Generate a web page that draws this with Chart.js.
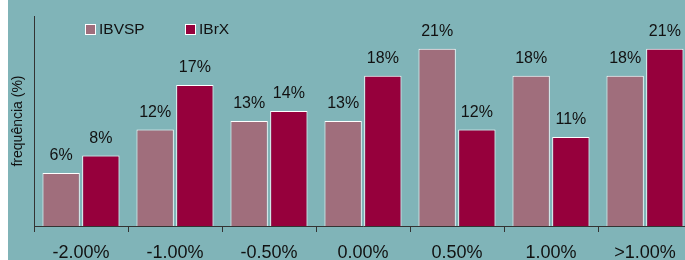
<!DOCTYPE html>
<html>
<head>
<meta charset="utf-8">
<script src="https://cdn.jsdelivr.net/npm/chart.js@4.4.1/dist/chart.umd.min.js"></script>
<style>
  html, body { margin: 0; padding: 0; background: #fff; overflow: hidden; width: 685px; height: 260px; }
  #wrap { position: absolute; left: 8px; top: 0; width: 690px; height: 260px; background: #80b4b8; }
</style>
</head>
<body>
<div id="wrap"><canvas id="chart" width="690" height="260"></canvas></div>
<script>
const categories = ['-2.00%', '-1.00%', '-0.50%', '0.00%', '0.50%', '1.00%', '>1.00%'];
const ibvsp = [6.3, 11.5, 12.5, 12.5, 21.1, 17.9, 17.9];
const ibrx = [8.4, 16.8, 13.7, 17.9, 11.5, 10.6, 21.1];
const seriesNames = ['IBVSP', 'IBrX'];
const seriesColors = ['#a06e7c', '#96003c'];

const FONT = 'Liberation Sans, Arial, sans-serif';

// value labels above each bar
const barLabels = {
    id: 'barLabels',
    afterDatasetsDraw(chart) {
        const ctx = chart.ctx;
        ctx.save();
        ctx.font = '16px ' + FONT;
        ctx.fillStyle = '#111';
        ctx.textAlign = 'center';
        ctx.textBaseline = 'middle';
        chart.data.datasets.forEach((ds, i) => {
            chart.getDatasetMeta(i).data.forEach((bar, j) => {
                ctx.fillText(Math.round(ds.data[j]) + '%', bar.x, bar.y - 17);
            });
        });
        ctx.restore();
    }
};

// legend sitting inside the plot area
const innerLegend = {
    id: 'innerLegend',
    afterDraw(chart) {
        const ctx = chart.ctx;
        const spots = [77, 177];
        ctx.save();
        ctx.font = '15.5px ' + FONT;
        ctx.textBaseline = 'middle';
        ctx.textAlign = 'left';
        chart.data.datasets.forEach((ds, i) => {
            const x = spots[i];
            ctx.fillStyle = ds.backgroundColor;
            ctx.fillRect(x, 24, 10, 10);
            ctx.strokeStyle = '#fff';
            ctx.lineWidth = 1;
            ctx.strokeRect(x + 0.5, 24.5, 10, 10);
            ctx.fillStyle = '#111';
            ctx.fillText(ds.label, x + 14, 29.5);
        });
        ctx.restore();
    }
};

new Chart(document.getElementById('chart'), {
    type: 'bar',
    data: {
        labels: categories,
        datasets: [
            { label: seriesNames[0], data: ibvsp, backgroundColor: seriesColors[0] },
            { label: seriesNames[1], data: ibrx, backgroundColor: seriesColors[1] }
        ]
    },
    options: {
        responsive: false,
        animation: false,
        devicePixelRatio: 1,
        layout: { padding: { top: 16, right: 6, left: 0, bottom: 0 } },
        datasets: {
            bar: {
                borderColor: '#fff',
                borderWidth: 1,
                categoryPercentage: 0.845,
                barPercentage: 0.94
            }
        },
        plugins: {
            legend: { display: false },
            tooltip: { enabled: false }
        },
        scales: {
            x: {
                afterFit: (scale) => { scale.height = 34; },
                grid: {
                    offset: true,
                    drawOnChartArea: false,
                    tickLength: 6,
                    color: '#333'
                },
                border: { display: true, color: '#333', width: 1 },
                ticks: {
                    color: '#111',
                    font: { family: FONT, size: 18 },
                    padding: 10,
                    maxRotation: 0
                }
            },
            y: {
                min: 0,
                max: 25,
                afterFit: (scale) => { scale.width = 26; },
                grid: { display: false },
                border: { display: true, color: '#333', width: 1 },
                ticks: { display: false },
                title: {
                    display: true,
                    text: 'frequência (%)',
                    color: '#111',
                    font: { family: FONT, size: 14 },
                    padding: { top: 2, bottom: 0 }
                }
            }
        }
    },
    plugins: [barLabels, innerLegend]
});
</script>
</body>
</html>
